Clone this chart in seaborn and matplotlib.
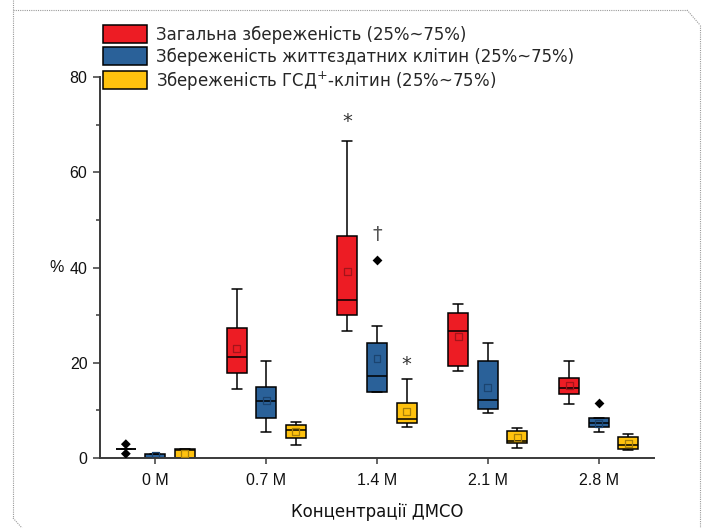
import numpy as np
import pandas as pd
import seaborn as sns
import matplotlib
matplotlib.use("Agg")
import matplotlib.pyplot as plt
from matplotlib.patches import Patch
from matplotlib.lines import Line2D
from matplotlib import font_manager as fm
from matplotlib.ticker import MultipleLocator

# ---------------- data ----------------
concentrations = ["0 M", "0.7 M", "1.4 M", "2.1 M", "2.8 M"]
series = ["Загальна збереженість (25%~75%)",
          "Збереженість життєздатних клітин (25%~75%)",
          "Збереженість ГСД$^{+}$-клітин (25%~75%)"]
colors = ["#ED1C24", "#2A6199", "#FFC20E"]
mean_colors = ["#A3141A", "#1B4470", "#A8800A"]

total_whislo = [1.9, 14.4, 26.6, 18.3, 11.3]
total_q1 = [1.9, 17.8, 30.0, 19.3, 13.4]
total_med = [1.9, 21.3, 33.2, 26.6, 14.6]
total_q3 = [1.9, 27.4, 46.6, 30.5, 16.7]
total_whishi = [1.9, 35.5, 66.6, 32.3, 20.4]
total_mean = [np.nan, 22.9, 39.1, 25.6, 15.3]

viable_whislo = [0.0, 5.5, 13.9, 9.4, 5.4]
viable_q1 = [0.0, 8.4, 13.9, 10.3, 6.5]
viable_med = [0.0, 11.9, 17.2, 12.2, 7.3]
viable_q3 = [0.9, 14.9, 24.2, 20.4, 8.3]
viable_whishi = [0.9, 20.4, 27.7, 24.1, 8.3]
viable_mean = [0.45, 12.0, 20.8, 14.8, 7.3]

gsd_whislo = [0.0, 2.7, 6.6, 2.1, 1.7]
gsd_q1 = [0.0, 4.1, 7.4, 3.1, 1.8]
gsd_med = [1.7, 5.8, 8.1, 3.6, 2.7]
gsd_q3 = [1.9, 6.9, 11.6, 5.6, 4.4]
gsd_whishi = [1.9, 7.5, 16.6, 6.4, 5.0]
gsd_mean = [1.0, 5.5, 9.7, 4.3, 3.1]

# outliers: (series index, concentration, value)
outlier_series = [0, 0, 1, 1]
outlier_conc = ["0 M", "0 M", "1.4 M", "2.8 M"]
outlier_values = [2.9, 0.9, 41.6, 11.5]

# significance marks: (series index, concentration, y, text)
mark_series = [0, 1, 2]
mark_conc = ["1.4 M", "1.4 M", "1.4 M"]
mark_y = [70.6, 47.0, 19.6]
mark_text = ["*", "†", "*"]

# ---------------- tables ----------------
summaries = [
    (total_whislo, total_q1, total_med, total_q3, total_whishi),
    (viable_whislo, viable_q1, viable_med, viable_q3, viable_whishi),
    (gsd_whislo, gsd_q1, gsd_med, gsd_q3, gsd_whishi),
]
rows = []
for s, summ in zip(series, summaries):
    for i, c in enumerate(concentrations):
        for arr in summ:
            rows.append({"conc": c, "series": s, "value": arr[i]})
box_df = pd.DataFrame(rows)

mean_rows = []
for s, m in zip(series, [total_mean, viable_mean, gsd_mean]):
    for c, v in zip(concentrations, m):
        mean_rows.append({"conc": c, "series": s, "value": v})
mean_df = pd.DataFrame(mean_rows).dropna()

out_df = pd.DataFrame({"conc": outlier_conc,
                       "series": [series[i] for i in outlier_series],
                       "value": outlier_values})

# ---------------- fonts ----------------
sns.set_theme(style="white")
plt.rcParams["font.family"] = ["Liberation Sans", "DejaVu Sans"]

# look for an installed condensed / narrow face
cond_file = None
for f in fm.fontManager.ttflist:
    nm = (f.name + " " + f.fname).lower()
    if ("narrow" in nm or "condensed" in nm) and "bold" not in nm \
            and "italic" not in nm and "oblique" not in nm:
        cond_file = f.fname
        if "liberation" in nm or "dejavu" in nm:
            break
if cond_file is not None:
    cond_fp = fm.FontProperties(fname=cond_file, size=13.2)
else:
    cond_fp = fm.FontProperties(family=["Liberation Sans", "DejaVu Sans"], size=13.2)

# ---------------- figure ----------------
fig = plt.figure(figsize=(7.03, 5.28), dpi=100)
ax = fig.add_axes([100 / 703, 1 - 458 / 528, 554 / 703, 381 / 528])

axis_col = "#3a3a3a"
sns.boxplot(data=box_df, x="conc", y="value", hue="series",
            order=concentrations, hue_order=series, palette=colors,
            saturation=1, width=0.8, gap=0.32, whis=(0, 100),
            showfliers=False, linecolor="black", linewidth=1.1,
            legend=False, ax=ax)

n_before = len(ax.collections)
sns.stripplot(data=mean_df, x="conc", y="value", hue="series",
              order=concentrations, hue_order=series, palette=mean_colors,
              dodge=True, jitter=False, marker="s", size=5, linewidth=0.9,
              legend=False, ax=ax, zorder=5)
for coll in ax.collections[n_before:]:
    fc = coll.get_facecolors()
    coll.set_edgecolors(fc)
    coll.set_facecolors("none")

sns.stripplot(data=out_df, x="conc", y="value", hue="series",
              order=concentrations, hue_order=series,
              palette=["black", "black", "black"],
              dodge=True, jitter=False, marker="D", size=5, linewidth=0,
              legend=False, ax=ax, zorder=5)

# significance marks placed at the dodged box positions
slot = 0.8 / len(series)
for si, c, y, t in zip(mark_series, mark_conc, mark_y, mark_text):
    xpos = concentrations.index(c) + (si - 1) * slot
    col = "#333333" if t == "*" else "#555555"
    ax.text(xpos, y, t, ha="center", va="center", fontsize=14, color=col,
            family="DejaVu Sans")

# ---------------- axes styling ----------------
ax.set_xlim(-0.5, 4.5)
ax.set_ylim(0, 80)
ax.yaxis.set_major_locator(MultipleLocator(20))
ax.yaxis.set_minor_locator(MultipleLocator(10))
for side in ["top", "right"]:
    ax.spines[side].set_visible(False)
for side in ["left", "bottom"]:
    ax.spines[side].set_color(axis_col)
    ax.spines[side].set_linewidth(1.4)
ax.tick_params(axis="x", which="major", direction="out", length=4.5, width=1.1,
               color=axis_col, labelsize=11.5, labelcolor="#111111", pad=6,
               bottom=True)
ax.tick_params(axis="y", which="major", direction="out", length=5, width=1.1,
               color=axis_col, labelsize=11.5, labelcolor="#111111", pad=4,
               left=True)
ax.tick_params(axis="y", which="minor", direction="out", length=3, width=1.1,
               color=axis_col, left=True)
ax.grid(False)

ax.set_ylabel("%", rotation=0, fontsize=11.5, color="#111111",
              ha="center", va="center")
ax.yaxis.set_label_coords(-0.078, 0.5)
ax.set_xlabel("Концентрації ДМСО", fontproperties=cond_fp, color="#111111")
ax.xaxis.label.set_va("center")
ax.xaxis.set_label_coords(0.5, -0.143)

# ---------------- legend ----------------
handles = [Patch(facecolor=c, edgecolor="black", linewidth=1.1) for c in colors]
leg = fig.legend(handles, series, loc="upper left",
                 bbox_to_anchor=(103 / 703, 1 - 25 / 528),
                 frameon=False, prop=cond_fp, borderpad=0, borderaxespad=0,
                 handlelength=2.4, handleheight=1.15, handletextpad=0.5,
                 labelspacing=0.15)

# ---------------- dotted page border ----------------
W, H = 703, 528
border_pts = [((13, 0), (13, 518)), ((13, 518), (22, 528)),
              ((13, 10), (687, 10)), ((687, 10), (700, 25)),
              ((700, 25), (700, 528))]
for (x0, y0), (x1, y1) in border_pts:
    fig.add_artist(Line2D([x0 / W, x1 / W], [1 - y0 / H, 1 - y1 / H],
                          transform=fig.transFigure, color="#9a9a9a",
                          linestyle=(0, (1, 1)), linewidth=0.8))

fig.savefig("out.png", dpi=100)
